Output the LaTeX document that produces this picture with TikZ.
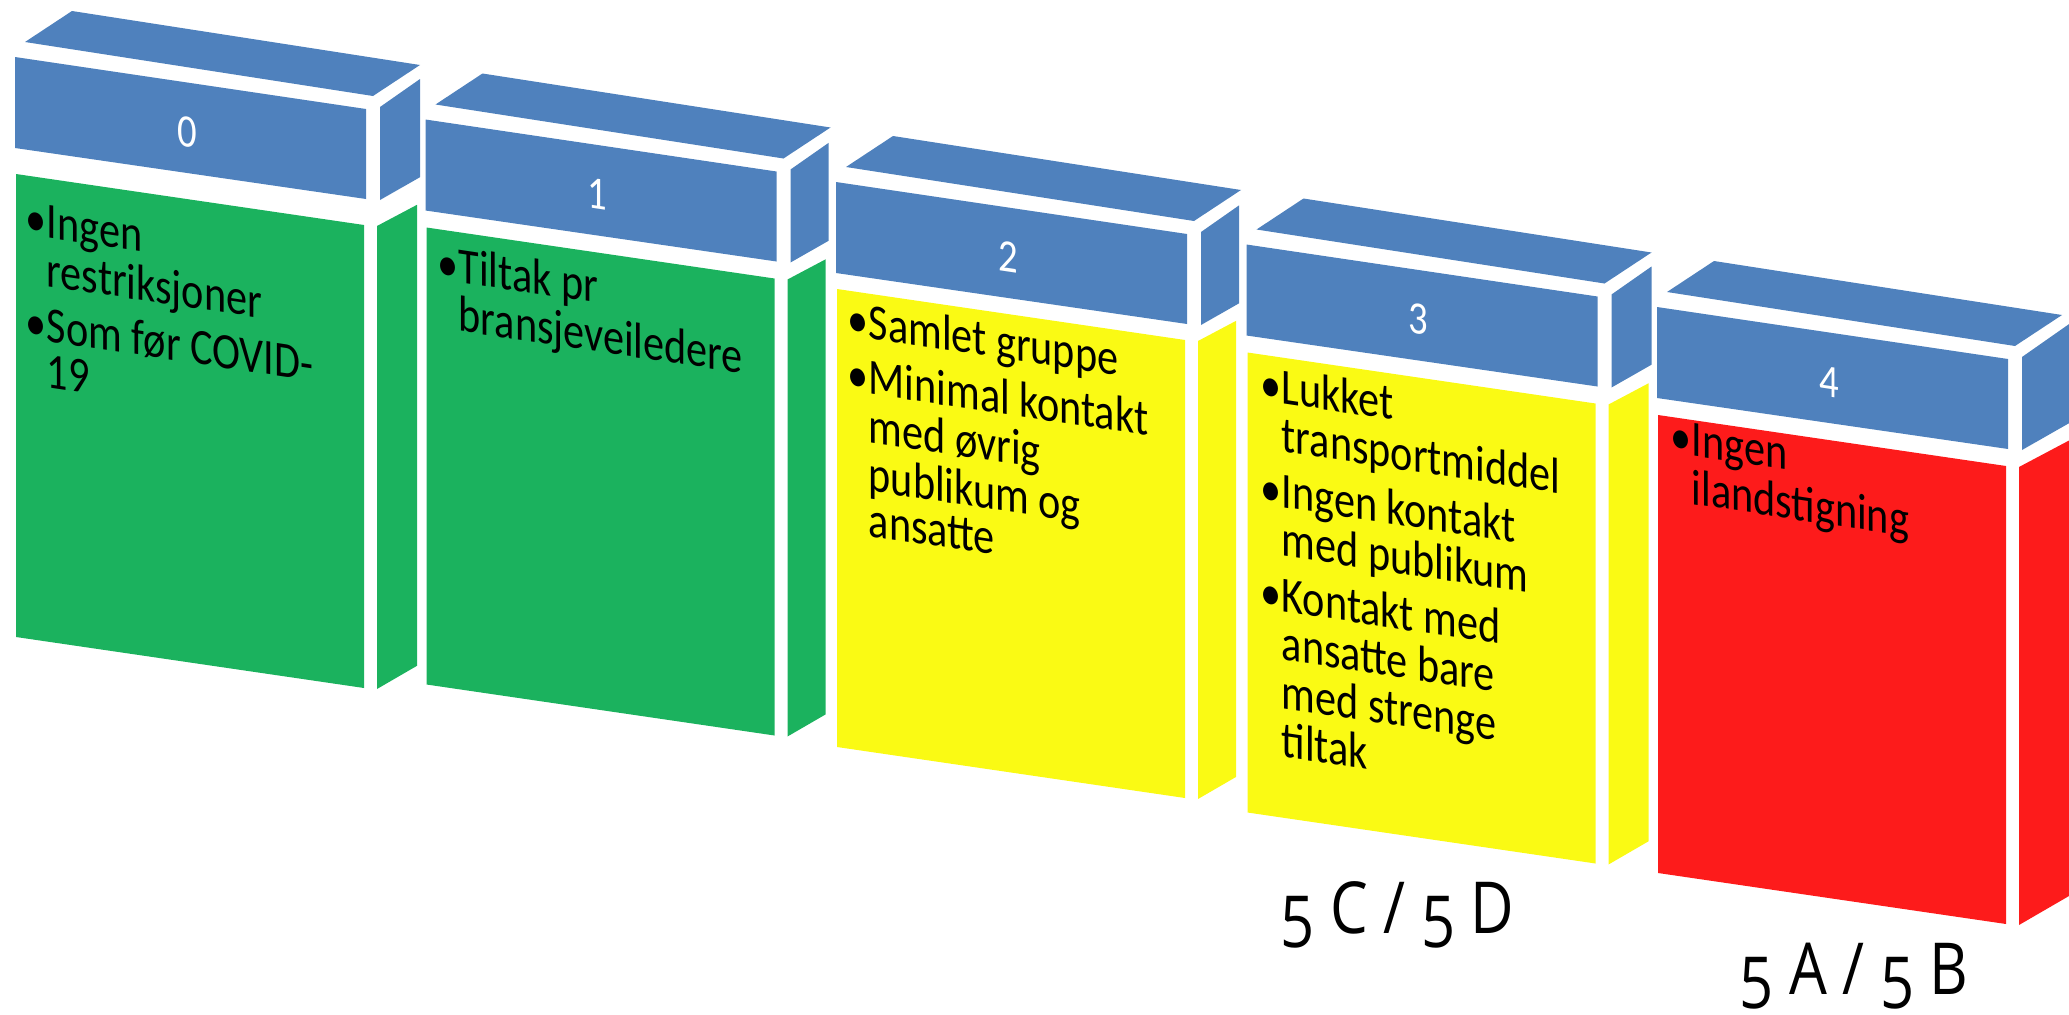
\documentclass[tikz,border=0pt]{standalone}
\usepackage{fontspec}
\setmainfont{Carlito}
\newfontfamily\lblfont{Open Sans}
\usetikzlibrary{positioning}

\definecolor{hdrblue}{RGB}{79,129,189}
\definecolor{lvlgreen}{RGB}{27,178,94}
\definecolor{lvlyellow}{RGB}{250,250,20}
\definecolor{lvlred}{RGB}{253,27,27}

% bullet with hanging lines
\newcommand{\bul}[1]{\makebox[6pt][l]{\textbullet}\begin{tabular}[t]{@{}l@{}}#1\end{tabular}}

\tikzset{
    boxtext/.style={anchor=north west, inner sep=0pt, align=left, yslant=-0.15, yscale=1.2, font=\fontsize{12}{10.5}\selectfont},
    boxnum/.style={text=white, inner sep=0pt, yslant=-0.15, yscale=1.2, font=\fontsize{11}{13}\selectfont},
    codelbl/.style={anchor=base west, inner sep=0pt, yscale=1.2, font=\lblfont\fontsize{17}{20}\selectfont}
}

\begin{document}
\begin{tikzpicture}[x=0.01cm, y=-0.01cm]
        \useasboundingbox (0,0) rectangle (2069,1015);
        \clip (0,0) rectangle (2069,1015);
        % the five levels: index / colour / side width / body top / body bottom
        \foreach \i/\col/\sw/\tp/\bt in {0/lvlgreen/40/117/580,1/lvlgreen/38/108/565,2/lvlyellow/38/107/565,3/lvlyellow/40/108/568,4/lvlred/60/108/566} {
            \begin{scope}[shift={(15+410.5*\i,57+62.5*\i)}]
                % blue header: top, front, side
                \fill[hdrblue] (10,-15) -- (57,-46) -- (405,8) -- (358,39) -- cycle;
                \fill[hdrblue] (0,0) -- (351,52) -- (351,142) -- (0,91) -- cycle;
                \fill[hdrblue] (365,50) -- (365+\sw,50-0.7*\sw) -- (365+\sw,143-0.57*\sw) -- (365,143) -- cycle;
                % coloured body: front, side
                \fill[\col] (1,\tp) -- (349,\tp+51) -- (349,\bt+51) -- (1,\bt) -- cycle;
                \fill[\col] (362,\tp+52) -- (362+\sw,\tp+52-0.53*\sw) -- (362+\sw,\bt+52-0.58*\sw) -- (362,\bt+52) -- cycle;
                \node[boxnum] (num\i) at (172,75) {\i};
            \end{scope}
        }
        % bullet texts
        \node[boxtext] (txt0) at (25,201) {\bul{Ingen\\restriksjoner}\\[0.7pt]\bul{Som før COVID-\\19}};
        \node[boxtext] (txt1) at (437,243) {\bul{Tiltak pr\\bransjeveiledere}};
        \node[boxtext] (txt2) at (847,299) {\bul{Samlet gruppe}\\[0.7pt]\bul{Minimal kontakt\\med øvrig\\publikum og\\ansatte}};
        \node[boxtext] (txt3) at (1260,364) {\bul{Lukket\\transportmiddel}\\[0.7pt]\bul{Ingen kontakt\\med publikum}\\[0.7pt]\bul{Kontakt med\\ansatte bare\\med strenge\\tiltak}};
        \node[boxtext] (txt4) at (1670,419) {\bul{Ingen\\ilandstigning}};
        % codes under the boxes
        \node[codelbl] (codecd) at (1280,947) {5 \raisebox{3.3pt}{C / }5 \raisebox{3.3pt}{D}};
        \node[codelbl] (codeab) at (1739,1008) {5 \raisebox{3.3pt}{A / }5 \raisebox{3.3pt}{B}};
\end{tikzpicture}
\end{document}
